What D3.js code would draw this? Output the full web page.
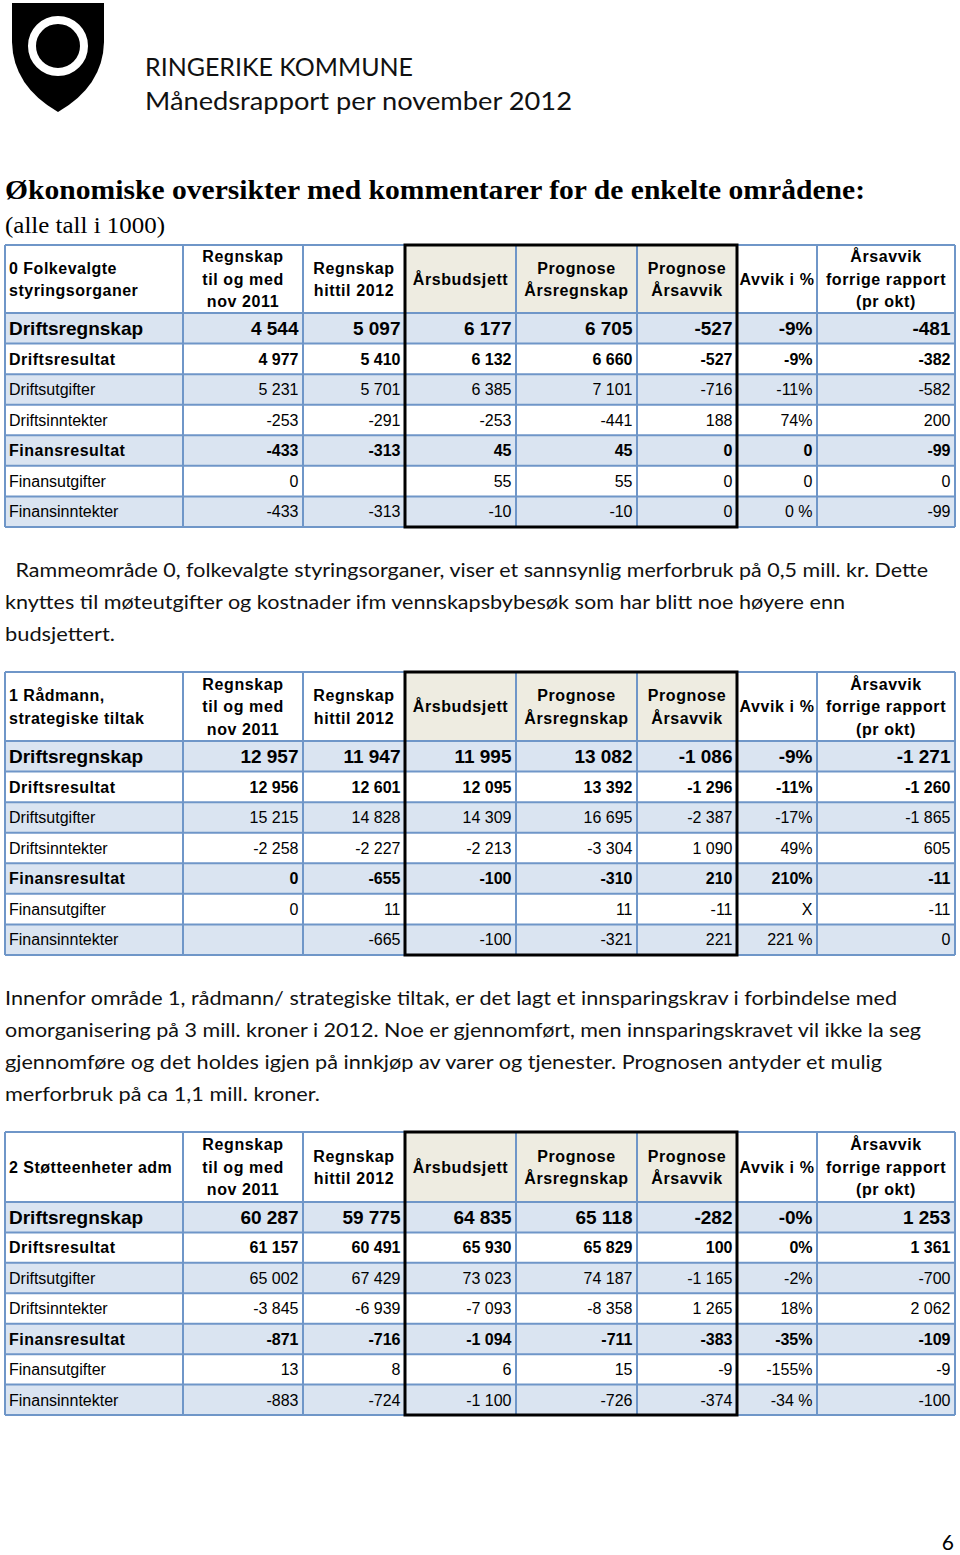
<!DOCTYPE html>
<html><head><meta charset="utf-8">
<script src="https://cdn.jsdelivr.net/npm/d3@7"></script>
<style>html,body{margin:0;padding:0;background:#fff;}svg{display:block;}</style>
</head><body>
<script>
// ---------------- DATA ----------------
const rowLabels = ["Driftsregnskap","Driftsresultat","Driftsutgifter","Driftsinntekter","Finansresultat","Finansutgifter","Finansinntekter"];
const columnHeaders = [["Regnskap","til og med","nov 2011"],["Regnskap","hittil 2012"],["Årsbudsjett"],["Prognose","Årsregnskap"],["Prognose","Årsavvik"],["Avvik i %"],["Årsavvik","forrige rapport","(pr okt)"]];
const tableTitles = [["0 Folkevalgte","styringsorganer"],["1 Rådmann,","strategiske tiltak"],["2 Støtteenheter adm"]];

// Table 0 – Folkevalgte styringsorganer
const t0Regnskap2011 = [4544, 4977, 5231, -253, -433, 0, -433];
const t0Hittil2012   = [5097, 5410, 5701, -291, -313, null, -313];
const t0Budsjett     = [6177, 6132, 6385, -253, 45, 55, -10];
const t0Prognose     = [6705, 6660, 7101, -441, 45, 55, -10];
const t0Avvik        = [-527, -527, -716, 188, 0, 0, 0];
const t0AvvikPct     = ["-9%","-9%","-11%","74%","0","0","0 %"];
const t0Forrige      = [-481, -382, -582, 200, -99, 0, -99];

// Table 1 – Rådmann, strategiske tiltak
const t1Regnskap2011 = [12957, 12956, 15215, -2258, 0, 0, null];
const t1Hittil2012   = [11947, 12601, 14828, -2227, -655, 11, -665];
const t1Budsjett     = [11995, 12095, 14309, -2213, -100, null, -100];
const t1Prognose     = [13082, 13392, 16695, -3304, -310, 11, -321];
const t1Avvik        = [-1086, -1296, -2387, 1090, 210, -11, 221];
const t1AvvikPct     = ["-9%","-11%","-17%","49%","210%","X","221 %"];
const t1Forrige      = [-1271, -1260, -1865, 605, -11, -11, 0];

// Table 2 – Støtteenheter adm
const t2Regnskap2011 = [60287, 61157, 65002, -3845, -871, 13, -883];
const t2Hittil2012   = [59775, 60491, 67429, -6939, -716, 8, -724];
const t2Budsjett     = [64835, 65930, 73023, -7093, -1094, 6, -1100];
const t2Prognose     = [65118, 65829, 74187, -8358, -711, 15, -726];
const t2Avvik        = [-282, 100, -1165, 1265, -383, -9, -374];
const t2AvvikPct     = ["-0%","0%","-2%","18%","-35%","-155%","-34 %"];
const t2Forrige      = [1253, 1361, -700, 2062, -109, -9, -100];

const tablesData = [
  [t0Regnskap2011,t0Hittil2012,t0Budsjett,t0Prognose,t0Avvik,t0AvvikPct,t0Forrige],
  [t1Regnskap2011,t1Hittil2012,t1Budsjett,t1Prognose,t1Avvik,t1AvvikPct,t1Forrige],
  [t2Regnskap2011,t2Hittil2012,t2Budsjett,t2Prognose,t2Avvik,t2AvvikPct,t2Forrige]
];

const para0 = [" Rammeområde 0, folkevalgte styringsorganer, viser et sannsynlig merforbruk på 0,5 mill. kr. Dette",
  "knyttes til møteutgifter og kostnader ifm vennskapsbybesøk som har blitt noe høyere enn",
  "budsjettert."];
const para1 = ["Innenfor område 1, rådmann/ strategiske tiltak, er det lagt et innsparingskrav i forbindelse med",
  "omorganisering på 3 mill. kroner i 2012. Noe er gjennomført, men innsparingskravet vil ikke la seg",
  "gjennomføre og det holdes igjen på innkjøp av varer og tjenester. Prognosen antyder et mulig",
  "merforbruk på ca 1,1 mill. kroner."];

// ---------------- LAYOUT ----------------
const W = 960, H = 1555;
const colWidths = [178,120,102,111,121,100,80,138];
const tableLeft = 5;
const tableTops = [245, 672, 1132];
const headerHeights = [68, 69, 70];
const tableBottoms = [527, 955, 1415];
const para0Layout = {x:[10,5,5], w:[918,840,110], y:[577,609,641]};
const para1Layout = {x:[5,5,5,5], w:[892,916,877,315], y:[1005,1037,1069,1101]};

const svg = d3.select("body").append("svg").attr("width",W).attr("height",H);

// Logo
const logo = svg.append("g");
logo.append("path").attr("d","M12,3 H104 V42 Q103,86 58,112 Q13,86 12,42 Z").attr("fill","#000");
logo.append("circle").attr("cx",58).attr("cy",46).attr("r",26).attr("fill","none").attr("stroke","#fff").attr("stroke-width",8);

const calibri = "Lato, 'Open Sans', sans-serif";
svg.append("text").attr("x",145).attr("y",76).attr("font-family",calibri).attr("font-size",25.5)
  .attr("textLength",268).attr("lengthAdjust","spacingAndGlyphs").attr("fill","#111").text("RINGERIKE KOMMUNE");
svg.append("text").attr("x",145).attr("y",110).attr("font-family",calibri).attr("font-size",25.5)
  .attr("textLength",427).attr("lengthAdjust","spacingAndGlyphs").attr("fill","#111").text("Månedsrapport per november 2012");

svg.append("text").attr("x",5).attr("y",199).attr("font-family","'Liberation Serif', serif").attr("font-weight","bold").attr("font-size",27)
  .attr("textLength",860).attr("lengthAdjust","spacingAndGlyphs").text("Økonomiske oversikter med kommentarer for de enkelte områdene:");
svg.append("text").attr("x",5).attr("y",233).attr("font-family","'Liberation Serif', serif").attr("font-size",23)
  .attr("textLength",160).attr("lengthAdjust","spacingAndGlyphs").text("(alle tall i 1000)");

// number format with space as thousand separator
const fmt = d3.formatLocale({decimal:",",thousands:" ",grouping:[3],currency:["",""],minus:"-"}).format(",d");
const show = v => v === null ? "" : (typeof v === "number" ? fmt(v) : v);

const arial = "'Liberation Sans', Arial, sans-serif";
const colKeys = d3.range(colWidths.length);
const colX = d3.scaleOrdinal().domain(colKeys).range(d3.cumsum([0, ...colWidths.slice(0,-1)]).map(d=>d+tableLeft));
const colW = d3.scaleOrdinal().domain(colKeys).range(colWidths);

const blue = "#dae4f1", green = "#eeece1", gridColor = "#6f96c8";

function drawTable(ti){
  const g = svg.append("g");
  const top = tableTops[ti], hb = top + headerHeights[ti], bottom = tableBottoms[ti];
  const y = d3.scaleBand().domain(rowLabels).range([hb, bottom]).padding(0);
  const right = colX(colKeys.length-1) + colW(colKeys.length-1);

  [3,4,5].forEach(c => g.append("rect").attr("x",colX(c)).attr("y",top).attr("width",colW(c)).attr("height",hb-top).attr("fill",green));
  g.selectAll(".rowfill").data(rowLabels).join("rect")
    .attr("x",tableLeft).attr("y",d=>y(d)).attr("width",right-tableLeft).attr("height",y.bandwidth())
    .attr("fill",(d,i)=> i%2===0 ? blue : "#fff");

  const hl = [top, hb, ...rowLabels.slice(1).map(d=>y(d)), bottom];
  g.selectAll(".hl").data(hl).join("line").attr("x1",tableLeft).attr("x2",right).attr("y1",d=>d).attr("y2",d=>d)
    .attr("stroke",gridColor).attr("stroke-width",2);
  const vl = [...colKeys.map(c=>colX(c)), right];
  g.selectAll(".vl").data(vl).join("line").attr("x1",d=>d).attr("x2",d=>d).attr("y1",top).attr("y2",bottom)
    .attr("stroke",gridColor).attr("stroke-width",2);

  g.append("rect").attr("x",colX(3)).attr("y",top).attr("width",colX(6)-colX(3)).attr("height",bottom-top)
    .attr("fill","none").attr("stroke","#000").attr("stroke-width",3);

  const hm = (top+hb)/2, lh = 22.5;
  const title = tableTitles[ti];
  title.forEach((t,i)=>{
    g.append("text").attr("x",tableLeft+4).attr("y",hm + (i-(title.length-1)/2)*lh).attr("dy","0.36em")
      .attr("font-family",arial).attr("font-weight","bold").attr("font-size",16).attr("letter-spacing",0.5).text(t);
  });
  columnHeaders.forEach((lines,ci)=>{
    const c = ci+1;
    lines.forEach((t,i)=>{
      g.append("text").attr("x",colX(c)+colW(c)/2).attr("y",hm + (i-(lines.length-1)/2)*lh).attr("dy","0.36em")
        .attr("text-anchor","middle").attr("font-family",arial).attr("font-weight","bold").attr("font-size",16)
        .attr("letter-spacing",0.6).text(t);
    });
  });

  const rowSize = i => i===0 ? 19 : 16;
  const rowBold = i => i===0 || i===1 || i===4;
  rowLabels.forEach((lab,i)=>{
    const cy = y(lab) + y.bandwidth()/2;
    g.append("text").attr("x",tableLeft+4).attr("y",cy).attr("dy","0.36em")
      .attr("font-family",arial).attr("font-size",rowSize(i)).attr("font-weight",rowBold(i)?"bold":"normal")
      .attr("letter-spacing", rowBold(i)&&i!==0 ? 0.5 : 0).text(lab);
    tablesData[ti].forEach((col,ci)=>{
      const c = ci+1;
      g.append("text").attr("x",colX(c)+colW(c)-4.5).attr("y",cy).attr("dy","0.36em").attr("text-anchor","end")
        .attr("font-family",arial).attr("font-size",rowSize(i)).attr("font-weight",rowBold(i)?"bold":"normal")
        .text(show(col[i]));
    });
  });
}
[0,1,2].forEach(drawTable);

function drawPara(lines, lay){
  lines.forEach((t,i)=>{
    svg.append("text").attr("x",lay.x[i]).attr("y",lay.y[i]).attr("font-family",calibri).attr("font-size",19.5)
      .attr("textLength",lay.w[i]).attr("lengthAdjust","spacingAndGlyphs").attr("xml:space","preserve").attr("fill","#111").text(t);
  });
}
drawPara(para0, para0Layout);
drawPara(para1, para1Layout);

svg.append("text").attr("x",954).attr("y",1550).attr("text-anchor","end").attr("font-family",calibri).attr("font-size",21).text("6");
</script>
</body></html>
